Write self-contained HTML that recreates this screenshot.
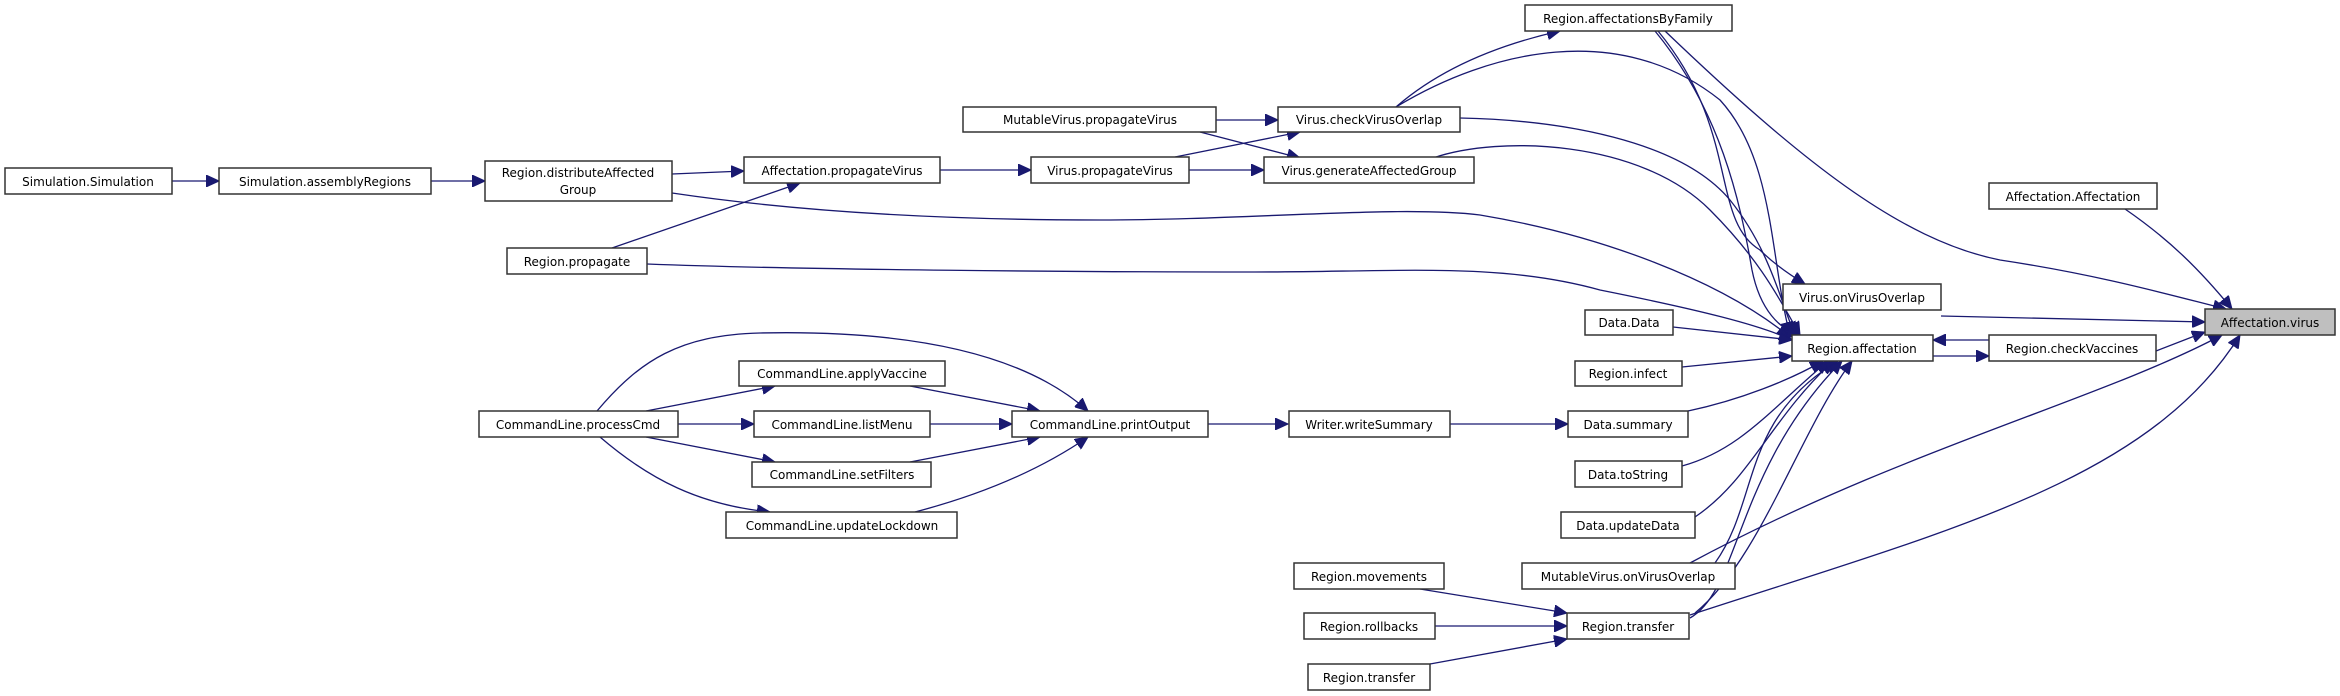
<!DOCTYPE html>
<html><head><meta charset="utf-8"><style>
html,body{margin:0;padding:0;background:#fff;}
svg{display:block}
text{font-family:"DejaVu Sans","Liberation Sans",sans-serif;font-size:12px;fill:#000;text-anchor:middle;}
rect{fill:#fff;stroke:#333;stroke-width:1.5}
path{fill:none;stroke:#191970;stroke-width:1.3}
</style></head><body>
<svg width="2340" height="696" viewBox="0 0 2340 696" xmlns="http://www.w3.org/2000/svg">
<defs><marker id="a" markerUnits="userSpaceOnUse" markerWidth="14" markerHeight="12" refX="13" refY="6" orient="auto"><path d="M0,0 L13,6 L0,12 Z" style="fill:#191970;stroke:#191970;stroke-width:1"/></marker></defs>
<g marker-end="url(#a)">
<path d="M172,181 L219,181"/>
<path d="M431,181 L485,181"/>
<path d="M672,174 L744,171"/>
<path d="M612,248 L800,183"/>
<path d="M940,170 L1031,170"/>
<path d="M1175,157 L1300,132"/>
<path d="M1189,170 L1264,170"/>
<path d="M1216,120 L1278,120"/>
<path d="M1200,132 L1300,158"/>
<path d="M1396,107 C1450,60 1520,40 1560,31"/>
<path d="M1396,107 C1490,50 1620,20 1720,100 C1775,160 1770,260 1790,335"/>
<path d="M1460,118 C1560,120 1680,140 1730,200 C1770,250 1780,300 1795,335"/>
<path d="M1433,158 C1500,135 1640,140 1710,210 C1760,260 1780,300 1800,335"/>
<path d="M672,193 C800,212 950,220 1100,220 C1250,220 1400,205 1480,215 C1600,235 1720,280 1790,337"/>
<path d="M647,264 C800,270 1100,272 1250,272 C1400,272 1500,262 1600,290 C1700,310 1760,325 1792,340"/>
<path d="M1655,31 C1720,110 1740,200 1752,270 C1760,310 1780,330 1800,335"/>
<path d="M1658,31 C1740,130 1710,220 1760,250 C1775,265 1790,275 1805,284"/>
<path d="M1665,31 C1800,160 1900,240 2000,260 C2100,275 2170,295 2226,309"/>
<path d="M2125,209 C2170,240 2200,270 2232,309"/>
<path d="M1941,316 L2205,322"/>
<path d="M2156,351 L2205,332"/>
<path d="M1989,340 L1933,340"/>
<path d="M1933,356 L1989,356"/>
<path d="M1673,327 L1792,340"/>
<path d="M1682,367 L1792,356"/>
<path d="M1688,411 C1740,400 1790,380 1823,361"/>
<path d="M1682,466 C1740,450 1770,410 1828,361"/>
<path d="M1695,517 C1750,480 1770,420 1833,361"/>
<path d="M1715,563 C1760,500 1740,420 1838,361"/>
<path d="M1690,618 C1740,590 1735,470 1842,361"/>
<path d="M1695,613 C1760,560 1800,430 1852,361"/>
<path d="M1690,563 C1900,450 2100,400 2222,335"/>
<path d="M1690,615 C1950,530 2150,480 2240,335"/>
<path d="M1450,424 L1568,424"/>
<path d="M1208,424 L1288,424"/>
<path d="M930,424 L1012,424"/>
<path d="M678,424 L754,424"/>
<path d="M646,411 L775,386"/>
<path d="M646,437 L775,462"/>
<path d="M597,411 C640,360 680,335 760,333 C900,330 1020,350 1088,411"/>
<path d="M600,437 C650,480 700,505 770,512"/>
<path d="M910,386 L1040,411"/>
<path d="M910,462 L1040,437"/>
<path d="M915,512 C980,495 1040,470 1088,437"/>
<path d="M1420,589 L1567,613"/>
<path d="M1435,626 L1567,626"/>
<path d="M1430,664 L1567,639"/>
</g>
<g>
<rect x="5" y="168" width="167" height="26"/><text x="88" y="186">Simulation.Simulation</text>
<rect x="219" y="168" width="212" height="26"/><text x="325" y="186">Simulation.assemblyRegions</text>
<rect x="485" y="161" width="187" height="40"/><text x="578" y="177">Region.distributeAffected</text><text x="578" y="194">Group</text>
<rect x="744" y="157" width="196" height="26"/><text x="842" y="175">Affectation.propagateVirus</text>
<rect x="507" y="248" width="140" height="26"/><text x="577" y="266">Region.propagate</text>
<rect x="1031" y="157" width="158" height="26"/><text x="1110" y="175">Virus.propagateVirus</text>
<rect x="963" y="107" width="253" height="25"/><text x="1090" y="124">MutableVirus.propagateVirus</text>
<rect x="1278" y="107" width="182" height="25"/><text x="1369" y="124">Virus.checkVirusOverlap</text>
<rect x="1264" y="157" width="210" height="26"/><text x="1369" y="175">Virus.generateAffectedGroup</text>
<rect x="1525" y="5" width="207" height="26"/><text x="1628" y="23">Region.affectationsByFamily</text>
<rect x="1989" y="183" width="168" height="26"/><text x="2073" y="201">Affectation.Affectation</text>
<rect x="1783" y="284" width="158" height="26"/><text x="1862" y="302">Virus.onVirusOverlap</text>
<rect x="2205" y="309" width="130" height="26" style="fill:#bfbfbf"/><text x="2270" y="327">Affectation.virus</text>
<rect x="1585" y="310" width="88" height="25"/><text x="1629" y="327">Data.Data</text>
<rect x="1792" y="335" width="141" height="26"/><text x="1862" y="353">Region.affectation</text>
<rect x="1989" y="335" width="167" height="26"/><text x="2072" y="353">Region.checkVaccines</text>
<rect x="1575" y="361" width="107" height="25"/><text x="1628" y="378">Region.infect</text>
<rect x="1568" y="411" width="120" height="26"/><text x="1628" y="429">Data.summary</text>
<rect x="1575" y="461" width="107" height="26"/><text x="1628" y="479">Data.toString</text>
<rect x="1561" y="512" width="134" height="26"/><text x="1628" y="530">Data.updateData</text>
<rect x="1522" y="563" width="213" height="26"/><text x="1628" y="581">MutableVirus.onVirusOverlap</text>
<rect x="1294" y="563" width="150" height="26"/><text x="1369" y="581">Region.movements</text>
<rect x="1304" y="613" width="131" height="26"/><text x="1369" y="631">Region.rollbacks</text>
<rect x="1567" y="613" width="122" height="26"/><text x="1628" y="631">Region.transfer</text>
<rect x="1308" y="664" width="122" height="26"/><text x="1369" y="682">Region.transfer</text>
<rect x="1289" y="411" width="161" height="26"/><text x="1369" y="429">Writer.writeSummary</text>
<rect x="1012" y="411" width="196" height="26"/><text x="1110" y="429">CommandLine.printOutput</text>
<rect x="754" y="411" width="176" height="26"/><text x="842" y="429">CommandLine.listMenu</text>
<rect x="739" y="361" width="206" height="25"/><text x="842" y="378">CommandLine.applyVaccine</text>
<rect x="752" y="462" width="179" height="25"/><text x="842" y="479">CommandLine.setFilters</text>
<rect x="726" y="512" width="231" height="26"/><text x="842" y="530">CommandLine.updateLockdown</text>
<rect x="479" y="411" width="199" height="26"/><text x="578" y="429">CommandLine.processCmd</text>
</g>
</svg>
</body></html>
